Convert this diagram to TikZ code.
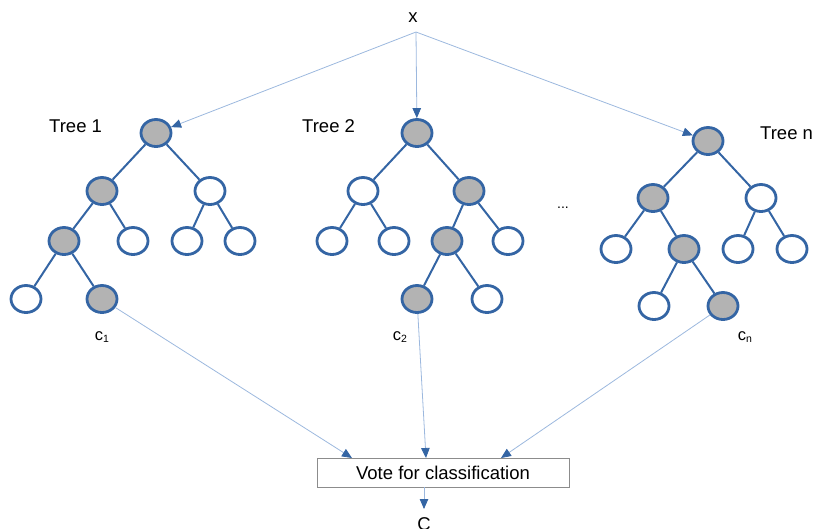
\documentclass[tikz,border=0pt]{standalone}
\usepackage{fontspec}
\setmainfont{Liberation Sans}
\usetikzlibrary{arrows.meta,shapes.geometric}
\definecolor{nodeblue}{HTML}{3465A4}
\definecolor{linkblue}{HTML}{9CB8DE}
\definecolor{nodegray}{HTML}{B3B3B3}
\definecolor{boxgray}{HTML}{8C8C8C}
\tikzset{
  tnode/.style={ellipse,draw=nodeblue,line width=2.8pt,minimum width=30pt,minimum height=27pt,inner sep=0pt,fill=white},
  hit/.style={tnode,fill=nodegray},
  branch/.style={draw=nodeblue,line width=2pt},
  link/.style={draw=linkblue,line width=0.8pt,-{Triangle[length=10pt,width=8.5pt,color=nodeblue,fill=nodeblue]}},
  lbl/.style={font=\fontsize{18.5}{20}\selectfont,inner sep=0pt},
  clbl/.style={font=\fontsize{16.5}{17}\selectfont,inner sep=0pt}
}
\newcommand{\csub}[2]{#1\raisebox{-0.3ex}{\fontsize{10.5}{11}\selectfont #2}}
\begin{document}
\begin{tikzpicture}[x=1pt,y=-1pt]
\useasboundingbox (0,0) rectangle (813,528);

% input
\node[lbl] (x) at (413,18) {x};
\coordinate (xsrc) at (416,32);

% tree 1
\node[lbl,anchor=west] (lab1) at (49,126) {Tree 1};
\node[hit]   (a)    at (156,133) {};
\node[hit]   (aL)   at (102,191) {};
\node[tnode] (aR)   at (210,191) {};
\node[hit]   (aLL)  at (64,241) {};
\node[tnode] (aLR)  at (133,241) {};
\node[tnode] (aRL)  at (187,241) {};
\node[tnode] (aRR)  at (240,241) {};
\node[tnode] (aLLL) at (26,299) {};
\node[hit]   (aLLR) at (102,299) {};
\draw[branch] (a)--(aL) (a)--(aR) (aL)--(aLL) (aL)--(aLR) (aR)--(aRL) (aR)--(aRR) (aLL)--(aLLL) (aLL)--(aLLR);
\node[clbl] (c1) at (102,337) {\csub{c}{1}};

% tree 2
\node[lbl,anchor=west] (lab2) at (302,126) {Tree 2};
\node[hit]   (b)    at (417,133) {};
\node[tnode] (bL)   at (363,191) {};
\node[hit]   (bR)   at (469,191) {};
\node[tnode] (bLL)  at (332,241) {};
\node[tnode] (bLR)  at (394,241) {};
\node[hit]   (bRL)  at (447,241) {};
\node[tnode] (bRR)  at (508,241) {};
\node[hit]   (bRLL) at (417,299) {};
\node[tnode] (bRLR) at (487,299) {};
\draw[branch] (b)--(bL) (b)--(bR) (bL)--(bLL) (bL)--(bLR) (bR)--(bRL) (bR)--(bRR) (bRL)--(bRLL) (bRL)--(bRLR);
\node[clbl] (c2) at (400,337) {\csub{c}{2}};

% dots between trees
\node[font=\fontsize{14}{14}\selectfont,inner sep=0pt] (dots) at (563,208) {...};

% tree n
\node[lbl,anchor=west] (labn) at (760,133) {Tree n};
\node[hit]   (n)    at (708,141) {};
\node[hit]   (nL)   at (653,198) {};
\node[tnode] (nR)   at (761,198) {};
\node[tnode] (nLL)  at (616,249) {};
\node[hit]   (nLR)  at (684,249) {};
\node[tnode] (nRL)  at (738,249) {};
\node[tnode] (nRR)  at (792,249) {};
\node[tnode] (nLRL) at (654,306) {};
\node[hit]   (nLRR) at (723,306) {};
\draw[branch] (n)--(nL) (n)--(nR) (nL)--(nLL) (nL)--(nLR) (nR)--(nRL) (nR)--(nRR) (nLR)--(nLRL) (nLR)--(nLRR);
\node[clbl] (cn) at (745,337) {\csub{c}{n}};

% input to each tree
\draw[link] (xsrc) -- (a);
\draw[link] (xsrc) -- (b);
\draw[link] (xsrc) -- (n);

% voting
\node[draw=boxgray,line width=0.8pt,minimum width=252pt,minimum height=29pt,inner sep=0pt,font=\fontsize{18.5}{20}\selectfont] (vote) at (443,472.5) {Vote for classification};
\coordinate (v1) at (352,458);
\coordinate (v2) at (426,458);
\coordinate (vn) at (501,458);
\draw[link] (aLLR) -- (v1);
\draw[link] (bRLL) -- (v2);
\draw[link] (nLRR) -- (vn);

\coordinate (vout) at (424,487);
\coordinate (restop) at (424,509);
\node[lbl] (res) at (424,524) {C};
\draw[link] (vout) -- (restop);
\end{tikzpicture}
\end{document}
